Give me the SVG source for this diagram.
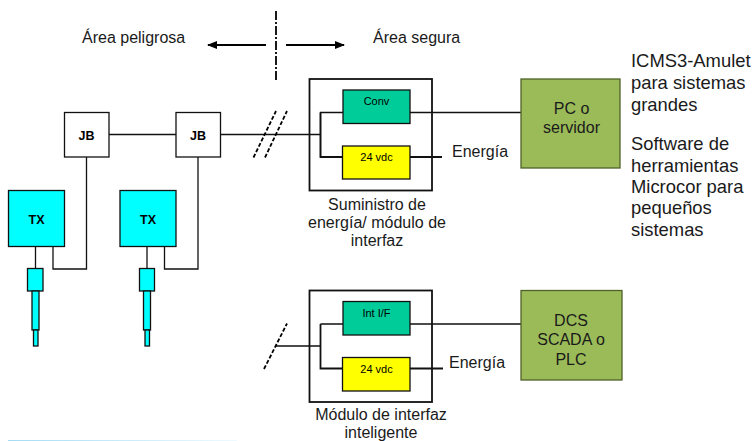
<svg xmlns="http://www.w3.org/2000/svg" width="752" height="441" viewBox="0 0 752 441">
<style>
text{font-family:"Liberation Sans",Arial,sans-serif;fill:#1a1a1a}
.t{font-size:16px}.m{text-anchor:middle}
.b{font-size:12.5px;font-weight:bold;text-anchor:middle;fill:#000}
.s{font-size:11px;text-anchor:middle;fill:#000}
.r{font-size:18.4px}
.w{fill:none;stroke:#111;stroke-width:1.3}
.k{fill:none;stroke:#111;stroke-width:1.8}
.d{fill:none;stroke:#000;stroke-width:1.8;stroke-dasharray:4 2}
.box{stroke:#111;stroke-width:1.3}
.j{fill:#fff}.c{fill:#00ffff}.g{fill:#00cc99}.y{fill:#ffff00}.o{fill:#9bbb59;stroke:#4f6228;stroke-width:1.3}
</style>
<defs>
<linearGradient id="fade"><stop offset="0" stop-color="#a5dcf5"/><stop offset="1" stop-color="#eefaff"/></linearGradient>
<marker id="ah" viewBox="0 0 10 8" refX="9" refY="4" markerWidth="10" markerHeight="8" markerUnits="userSpaceOnUse" orient="auto-start-reverse"><path d="M0 0L10 4L0 8Z" fill="#000"/></marker>
</defs>
<rect x="8" y="440" width="229" height="1" fill="url(#fade)"/>
<g id="connectors">
<path class="w" d="M109 134.500H176M220 134.500H320.500M320.500 157V112.500H343M410 112.500H521"/>
<path class="k" d="M320.500 112.500V157H342.500M410 157H442"/>
<path class="w" d="M53 246V269H86.500V157M164.500 246V269H198V157M35.500 246V268M147 246V268"/>
<path class="w" d="M276 346H320.500M320.500 324H343M410 324H521"/>
<path class="k" d="M320.500 324V368.500H342.500M410 368.500H443"/>
<path class="d" d="M253.500 157.500L276 111M265 157.500L287 111M264 369L287 323.500"/>
<path d="M276 11V80" fill="none" stroke="#000" stroke-width="1.8" stroke-dasharray="9 2 2 2"/>
<path d="M266 45H208" fill="none" stroke="#000" stroke-width="2" marker-end="url(#ah)"/>
<path d="M286 45H344" fill="none" stroke="#000" stroke-width="2" marker-end="url(#ah)"/>
</g>
<g id="area-labels">
<text class="t" x="82" y="43">Área peligrosa</text>
<text class="t" x="373" y="43">Área segura</text>
</g>
<g id="jb1"><rect class="box j" x="64.500" y="112.500" width="44.500" height="44.500"/><text class="b" x="86.500" y="140">JB</text></g>
<g id="jb2"><rect class="box j" x="176" y="112.500" width="44.500" height="44.500"/><text class="b" x="198" y="140">JB</text></g>
<g id="tx1"><rect class="box c" x="8.500" y="190.500" width="56" height="56"/><text class="b" x="36.500" y="224">TX</text></g>
<g id="tx2"><rect class="box c" x="120" y="190.500" width="56" height="56"/><text class="b" x="148" y="224">TX</text></g>
<g id="sensor1"><rect class="box c" x="27.500" y="268.500" width="15.500" height="22.500"/><rect class="box c" x="32" y="291" width="7" height="39"/><rect class="box c" x="33.500" y="330" width="4.500" height="16"/></g>
<g id="sensor2"><rect class="box c" x="139.500" y="268.500" width="15" height="22.500"/><rect class="box c" x="143.500" y="291" width="7" height="39"/><rect class="box c" x="145" y="330" width="4.500" height="16"/></g>
<g id="module1">
<rect class="k" x="309.500" y="79" width="122.500" height="111.500"/>
<text class="t m" x="377" y="210">Suministro de</text><text class="t m" x="377" y="228">energía/ módulo de</text><text class="t m" x="377" y="246">interfaz</text>
</g>
<g id="conv"><rect class="box g" x="343" y="90" width="67" height="33.500"/><text class="s" x="376.500" y="105">Conv</text></g>
<g id="vdc1"><rect class="box y" x="342.500" y="146" width="67.500" height="33"/><text class="s" x="376.500" y="161">24 vdc</text></g>
<g id="module2">
<rect class="k" x="309.500" y="290.500" width="122.500" height="111.500"/>
<text class="t m" x="381" y="420">Módulo de interfaz</text><text class="t m" x="381" y="438">inteligente</text>
</g>
<g id="intif"><rect class="box g" x="343" y="301.500" width="67" height="33.500"/><text class="s" x="376.500" y="317">Int I/F</text></g>
<g id="vdc2"><rect class="box y" x="342.500" y="357.500" width="67.500" height="33.500"/><text class="s" x="376.500" y="373">24 vdc</text></g>
<g id="pc"><rect class="o" x="521" y="79" width="99" height="89"/><text class="t m" x="571.500" y="114">PC o</text><text class="t m" x="571.500" y="133">servidor</text></g>
<g id="dcs"><rect class="o" x="521" y="290.500" width="101" height="89.500"/><text class="t m" x="571" y="326">DCS</text><text class="t m" x="571" y="345">SCADA o</text><text class="t m" x="571" y="365">PLC</text></g>
<text class="t" x="452" y="157">Energía</text>
<text class="t" x="449" y="368">Energía</text>
<g id="notes">
<text class="r" x="631" y="67">ICMS3-Amulet</text><text class="r" x="631" y="89">para sistemas</text><text class="r" x="631" y="111">grandes</text>
<text class="r" x="631" y="150">Software de</text><text class="r" x="631" y="172">herramientas</text><text class="r" x="631" y="193">Microcor para</text><text class="r" x="631" y="214">pequeños</text><text class="r" x="631" y="236">sistemas</text>
</g>
</svg>
